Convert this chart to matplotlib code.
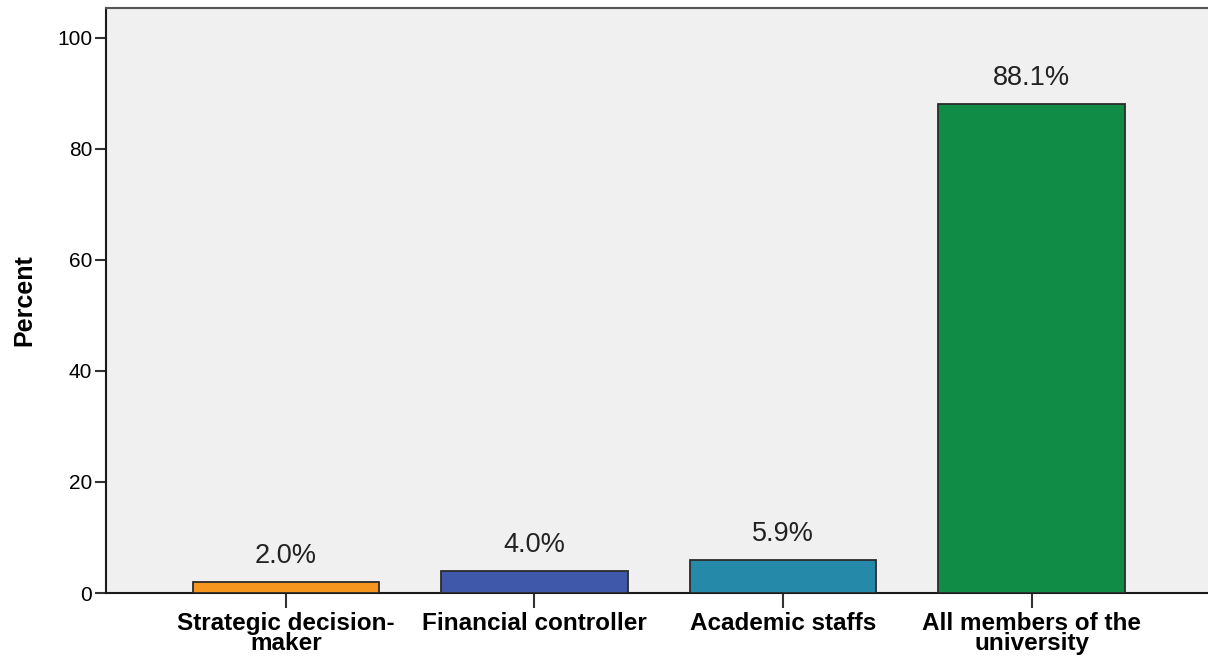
import matplotlib
matplotlib.use("Agg")
import matplotlib.pyplot as plt

# Who should be involved - percent of respondents
categories = ["Strategic decision-\nmaker", "Financial controller",
              "Academic staffs", "All members of the\nuniversity"]
percents = [2.0, 4.0, 5.9, 88.1]
colors = ["#F7961E", "#3F58AA", "#2589AA", "#118C47"]
yticks = [0, 20, 40, 60, 80, 100]

plt.rcParams["font.family"] = ["Liberation Sans", "DejaVu Sans"]

fig = plt.figure(figsize=(12.08, 6.56), dpi=100)
ax = fig.add_axes([0.0877, 0.096, 0.9123, 0.892])
ax.set_facecolor("#F0F0F0")

x = range(len(categories))
bars = ax.bar(x, percents, width=0.75, color=colors,
              edgecolor="#2b2b2b", linewidth=1.3, zorder=3)

for b, v in zip(bars, percents):
    ax.annotate(f"{v:.1f}%", (b.get_x() + b.get_width() / 2, v),
                xytext=(0, 9.5), textcoords="offset points",
                ha="center", va="bottom", fontsize=19.5, color="#222222")

ax.set_xlim(-0.724, 3.71)
ax.set_ylim(0, 105.4)
ax.set_yticks(yticks)
ax.set_xticks(list(x))
ax.set_xticklabels(categories, fontsize=17.5, fontweight="bold",
                   linespacing=0.8)
ax.tick_params(axis="y", labelsize=15, length=8, width=1.5, pad=2,
               color="#333333")
ax.tick_params(axis="x", length=11, width=1.5, pad=3, color="#333333")

ax.set_ylabel("Percent", fontsize=18, fontweight="bold", labelpad=15)

for side in ["left", "bottom"]:
    ax.spines[side].set_color("#1a1a1a")
    ax.spines[side].set_linewidth(1.5)
ax.spines["top"].set_color("#555555")
ax.spines["top"].set_linewidth(1.5)
ax.spines["right"].set_visible(False)

fig.savefig("out.png", dpi=100)
